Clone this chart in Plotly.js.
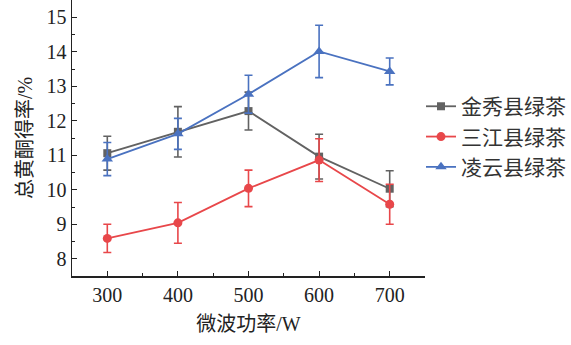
<!DOCTYPE html>
<html><head><meta charset="utf-8">
<script src="https://cdn.plot.ly/plotly-3.0.1.min.js"></script>
<style>html,body{margin:0;padding:0;background:#fff}#c{width:571px;height:345px}</style>
</head><body><div id="c"></div>
<script>
const power = [300, 400, 500, 600, 700];
const names = ['金秀县绿茶', '三江县绿茶', '凌云县绿茶'];
const jinxiu = [11.06, 11.68, 12.28, 10.96, 10.03];
const jinxiuErr = [0.49, 0.73, 0.55, 0.65, 0.52];
const sanjiang = [8.59, 9.04, 10.04, 10.86, 9.58];
const sanjiangErr = [0.41, 0.59, 0.53, 0.62, 0.58];
const lingyun = [10.89, 11.62, 12.77, 14.01, 13.43];
const lingyunErr = [0.48, 0.45, 0.55, 0.76, 0.39];
const yTicks = [8, 9, 10, 11, 12, 13, 14, 15];

const colors = ['#626262', '#e8474a', '#4a72c0'];
const symbols = ['square', 'circle', 'triangle-up'];
const sizes = [8, 9, 10];
const series = [[jinxiu, jinxiuErr], [sanjiang, sanjiangErr], [lingyun, lingyunErr]];

const serif = '"Liberation Serif", "Times New Roman", "Noto Sans CJK SC", serif';
const cjk = '"Liberation Serif", "Noto Sans CJK SC", serif';

const traces = series.map((s, i) => ({
  x: power, y: s[0], name: names[i], type: 'scatter', mode: 'lines+markers',
  line: {color: colors[i], width: 1.8},
  marker: {color: colors[i], symbol: symbols[i], size: sizes[i]},
  error_y: {type: 'data', array: s[1], visible: true, color: colors[i], thickness: 1.6, width: 4}
}));

Plotly.newPlot('c', traces, {
  width: 571, height: 345,
  margin: {l: 72, r: 145, t: 0, b: 69},
  paper_bgcolor: '#fff', plot_bgcolor: '#fff',
  showlegend: true,
  legend: {x: 0.99, xanchor: 'left', y: 0.505, yanchor: 'middle', font: {family: cjk, size: 21, color: '#333'},
           tracegroupgap: 0, itemwidth: 30, bgcolor: 'rgba(0,0,0,0)'},
  xaxis: {range: [250, 750], tickvals: power, ticks: 'inside', ticklen: 5, tickcolor: '#222',
          minor: {dtick: 50, ticks: 'inside', ticklen: 3, tickcolor: '#222'},
          showline: true, linecolor: '#222', linewidth: 1.5, showgrid: false, zeroline: false,
          tickfont: {family: serif, size: 20, color: '#222'},
          title: {text: '微波功率/W', font: {family: cjk, size: 20, color: '#222'}, standoff: 12}},
  yaxis: {range: [7.5, 15.5], tickvals: yTicks, ticks: 'inside', ticklen: 5, tickcolor: '#222',
          minor: {dtick: 0.5, ticks: 'inside', ticklen: 3, tickcolor: '#222'},
          showline: true, linecolor: '#222', linewidth: 1.5, showgrid: false, zeroline: false,
          tickfont: {family: serif, size: 20, color: '#222'},
          title: {text: '总黄酮得率/%', font: {family: cjk, size: 20, color: '#222'}, standoff: 8}}
}, {staticPlot: true, displayModeBar: false});
</script></body></html>
